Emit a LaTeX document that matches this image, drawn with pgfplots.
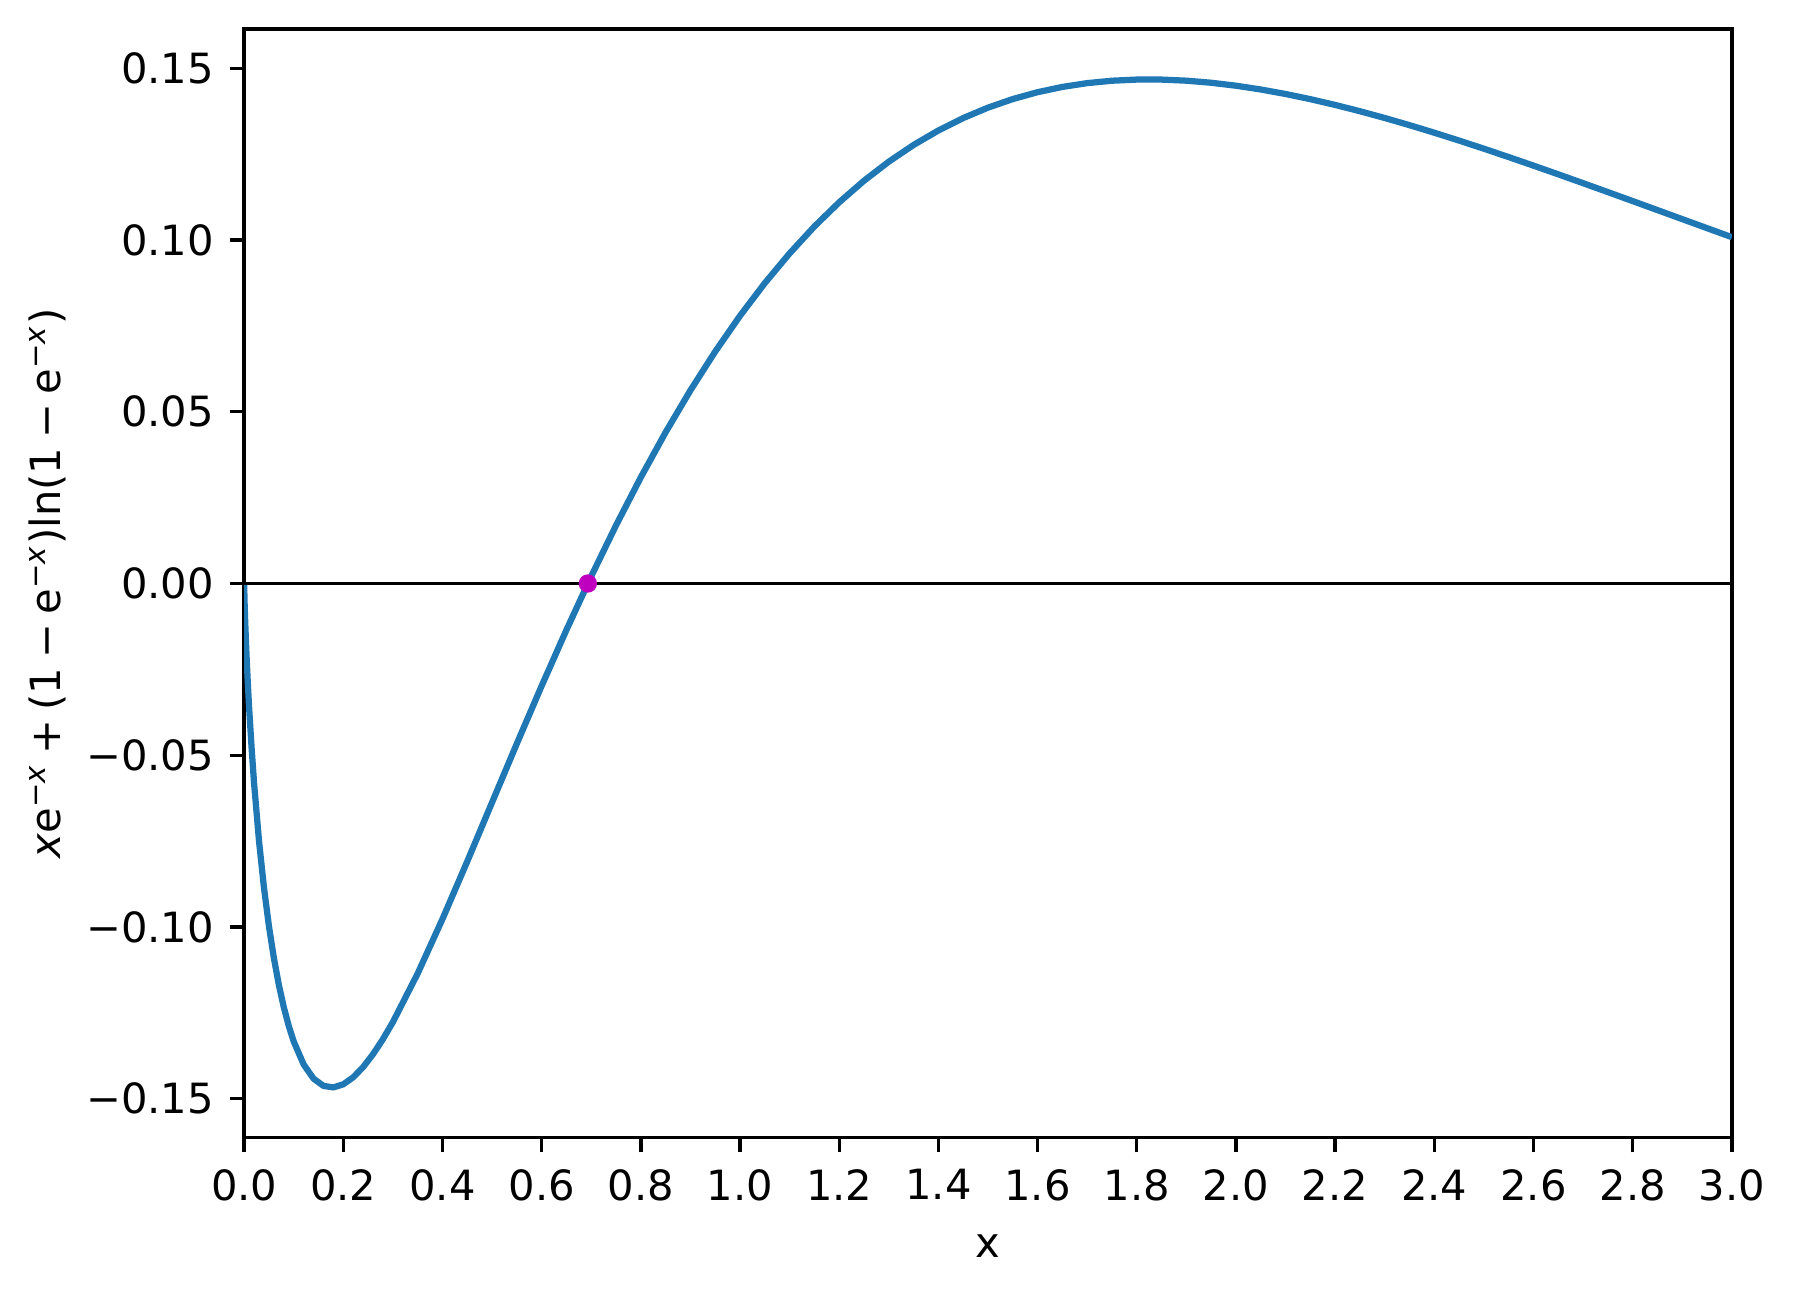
\documentclass[border=0pt]{standalone}
\usepackage{fontspec}
\setmainfont{DejaVu Sans}
\usepackage{pgfplots}
\pgfplotsset{compat=1.18}
\usepackage{pgfplotstable}
\definecolor{mplblue}{HTML}{1F77B4}
\definecolor{mplmag}{rgb}{0.75,0,0.75}
\pgfplotstableread{
x y
0.0 0.0
0.001 -0.005906
0.002 -0.010423
0.0035 -0.01620
0.005 -0.02146
0.0075 -0.02920
0.01 -0.03597
0.015 -0.04770
0.02 -0.058057
0.03 -0.074963
0.04 -0.088566
0.05 -0.099757
0.06 -0.109071
0.07 -0.116867
0.08 -0.123395
0.09 -0.128840
0.10 -0.133355
0.12 -0.140047
0.14 -0.144185
0.16 -0.146292
0.18 -0.146737
0.20 -0.145825
0.22 -0.143782
0.24 -0.140809
0.26 -0.137052
0.28 -0.132652
0.30 -0.127711
0.35 -0.113560
0.40 -0.097698
0.45 -0.080911
0.50 -0.063744
0.55 -0.046613
0.60 -0.029800
0.65 -0.013517
0.70 0.002099
0.75 0.016933
0.80 0.030925
0.85 0.044033
0.90 0.056240
0.95 0.067535
1.00 0.077939
1.05 0.087461
1.10 0.096121
1.15 0.103958
1.20 0.110993
1.25 0.117270
1.30 0.122821
1.35 0.127687
1.40 0.131904
1.45 0.135513
1.50 0.138548
1.55 0.141048
1.60 0.143048
1.65 0.144584
1.70 0.145685
1.75 0.146390
1.80 0.146721
1.85 0.146717
1.90 0.146399
1.95 0.145798
2.00 0.144937
2.05 0.143839
2.10 0.142528
2.15 0.141020
2.20 0.139344
2.25 0.137509
2.30 0.135539
2.35 0.133448
2.40 0.131251
2.45 0.128961
2.50 0.126595
2.55 0.124157
2.60 0.121667
2.65 0.119131
2.70 0.116560
2.75 0.113962
2.80 0.111346
2.85 0.108717
2.90 0.106087
2.95 0.103458
3.00 0.100835
}\curve
\begin{document}
\begin{tikzpicture}
\begin{axis}[
  width=357.1pt, height=266.1pt, scale only axis,
  xmin=0, xmax=3, ymin=-0.1614, ymax=0.1614,
  axis line style={black, line width=0.8pt},
  tick pos=left, tick align=outside,
  major tick length=3.5pt,
  every tick/.style={black, line width=0.8pt},
  xtick={0,0.2,...,3.01},
  xticklabels={0.0,0.2,0.4,0.6,0.8,1.0,1.2,1.4,1.6,1.8,2.0,2.2,2.4,2.6,2.8,3.0},
  ytick={-0.15,-0.10,-0.05,0,0.05,0.10,0.15},
  yticklabels={−0.15,−0.10,−0.05,0.00,0.05,0.10,0.15},
  ticklabel style={font=\fontsize{10}{12}\selectfont},
  xticklabel style={yshift=-0.5pt},
  yticklabel style={xshift=-0.2pt},
  xlabel={x},
  xlabel style={yshift=-1.4pt},
  ylabel={\textit{x}e\textsuperscript{−\textit{x}}\hspace{0.22em}+\hspace{0.22em}(1\hspace{0.22em}−\hspace{0.22em}e\textsuperscript{−\textit{x}})ln(1\hspace{0.22em}−\hspace{0.22em}e\textsuperscript{−\textit{x}})},
  ylabel style={yshift=-2pt},
  label style={font=\fontsize{10}{12}\selectfont},
  clip=true,
]
\addplot[mplblue, line width=1.5pt, line join=round] table {\curve};
\addplot[black, line width=0.75pt, forget plot] coordinates {(0,0) (3,0)};
\addplot[only marks, mark=*, mark size=2pt, mplmag, mark options={draw=mplmag, fill=mplmag}] coordinates {(0.693147,0)};
\end{axis}
\pgfresetboundingbox
\path[use as bounding box] ([shift={(-58.6pt,-38.9pt)}]current axis.south west) rectangle ([shift={(15.4pt,7pt)}]current axis.north east);
\end{tikzpicture}
\end{document}
